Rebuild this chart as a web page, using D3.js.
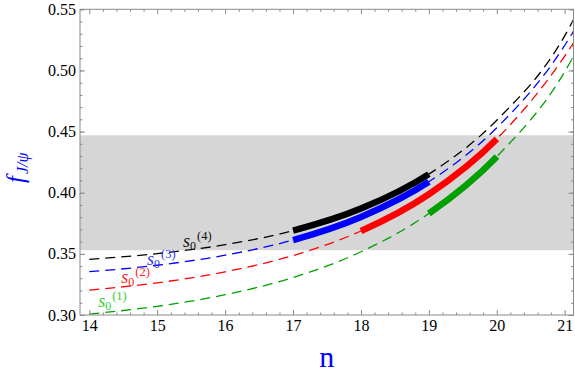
<!DOCTYPE html>
<html>
<head>
<meta charset="utf-8">
<script src="https://cdn.jsdelivr.net/npm/d3@7"></script>
<style>
  body { margin: 0; background: #fff; }
</style>
</head>
<body>
<svg id="chart" width="575" height="375"></svg>
<script>
// values
var nValues = [14, 15, 16, 17, 18, 19, 20, 21, 21.13];
var s0_1 = [0.3008, 0.3071, 0.3166, 0.3307, 0.3517, 0.3830, 0.4295, 0.4989, 0.5115];
var s0_2 = [0.3204, 0.3263, 0.3353, 0.3486, 0.3687, 0.3988, 0.4440, 0.5117, 0.5226];
var s0_3 = [0.3354, 0.3407, 0.3489, 0.3613, 0.3802, 0.4090, 0.4531, 0.5204, 0.5320];
var s0_4 = [0.3455, 0.3502, 0.3575, 0.3690, 0.3870, 0.4152, 0.4593, 0.5283, 0.5415];
var seriesNames = ["(1)", "(2)", "(3)", "(4)"];
// n range drawn as a thick band for each s0
var thickRanges = [[19, 20], [18, 20], [17, 19], [17, 19]];
// where each s0 label sits, in data units
var labelN = [14.13, 14.47, 14.85, 15.38];
var labelF = [0.3065, 0.3262, 0.3409, 0.3559];
var band = [0.353, 0.447];
var xTicks = [14, 15, 16, 17, 18, 19, 20, 21];
var yTicks = [0.30, 0.35, 0.40, 0.45, 0.50, 0.55];

var serif = "'Liberation Serif', 'Times New Roman', serif",
  lineColors = ["#00a000", "#ff0000", "#0000ff", "#000000"],
  labelColors = ["#33cc33", "#ff2020", "#3333ee", "#111111"],
  frameColor = "#8a8a8a",
  plot = {left: 80, right: 573.5, top: 9.3, bottom: 315};

var svg = d3.select("#chart").attr("font-family", serif),
  x = d3.scaleLinear().domain([13.863, 21.13]).range([plot.left, plot.right]),
  y = d3.scaleLinear().domain([0.30, 0.55]).range([plot.bottom, plot.top]),
  allSeries = [s0_1, s0_2, s0_3, s0_4],
  line = d3.line()
    .x(function(d) { return x(d[0]); })
    .y(function(d) { return y(d[1]); })
    .curve(d3.curveMonotoneX),
  defs = svg.append("defs");

defs.append("clipPath")
  .attr("id", "plotClip")
  .append("rect")
    .attr("x", plot.left)
    .attr("y", plot.top)
    .attr("width", plot.right - plot.left)
    .attr("height", plot.bottom - plot.top);

// path length at which the curve reaches screen x = px
var lengthAtX = function(node, px) {
  var lo = 0, hi = node.getTotalLength(), mid, k;
  for (k = 0; k < 40; k++) {
    mid = (lo + hi) / 2;
    if (node.getPointAtLength(mid).x < px) lo = mid; else hi = mid;
  }
  return (lo + hi) / 2;
};

// grey band
svg.append("rect")
  .attr("x", plot.left)
  .attr("y", y(band[1]))
  .attr("width", plot.right - plot.left)
  .attr("height", y(band[0]) - y(band[1]))
  .attr("fill", "#d6d6d6");

var curves = svg.append("g").attr("clip-path", "url(#plotClip)");

allSeries.forEach(function(vals, i) {
  var pts = nValues.map(function(n, k) { return [n, vals[k]]; });
  curves.append("path")
    .attr("d", line(pts))
    .attr("fill", "none")
    .attr("stroke", lineColors[i])
    .attr("stroke-width", 1.3)
    .attr("stroke-dasharray", "10,6");
});

allSeries.forEach(function(vals, i) {
  var pts = nValues.map(function(n, k) { return [n, vals[k]]; }),
    thick = curves.append("path")
      .attr("d", line(pts))
      .attr("fill", "none")
      .attr("stroke", lineColors[i])
      .attr("stroke-width", 6.5),
    node = thick.node(),
    l0 = lengthAtX(node, x(thickRanges[i][0])),
    l1 = lengthAtX(node, x(thickRanges[i][1]));
  thick.attr("stroke-dasharray", [0, l0, l1 - l0, node.getTotalLength()].join(","));
});

// s0 labels
seriesNames.forEach(function(name, i) {
  var t = svg.append("text")
    .attr("x", x(labelN[i]))
    .attr("y", y(labelF[i]))
    .attr("fill", labelColors[i]);
  t.append("tspan").attr("font-style", "italic").attr("font-size", 18).text("s");
  t.append("tspan").attr("font-size", 12).attr("dy", 3).text("0");
  t.append("tspan").attr("font-size", 12.5).attr("dy", -10).attr("dx", 1).text(name);
});

// frame and ticks
var xMinor = d3.range(14, 21.15, 0.2).filter(function(v) { return xTicks.indexOf(Math.round(v * 10) / 10) < 0; }),
  yMinor = d3.range(0.30, 0.5501, 0.01),
  tickStyle = function(g) {
    g.attr("font-family", serif);
    g.select(".domain").remove();
    g.selectAll(".tick line").attr("stroke", frameColor);
    g.selectAll(".tick text")
      .attr("fill", "#000")
      .attr("font-family", serif)
      .attr("font-size", 16);
  };

svg.append("g")
  .attr("transform", "translate(0," + plot.bottom + ")")
  .call(d3.axisBottom(x).tickValues(xTicks).tickSize(-5).tickPadding(5).tickFormat(d3.format("d")))
  .call(tickStyle);
svg.append("g")
  .attr("transform", "translate(0," + plot.bottom + ")")
  .call(d3.axisBottom(x).tickValues(xMinor).tickSize(-2.5).tickFormat(""))
  .call(tickStyle);
svg.append("g")
  .attr("transform", "translate(0," + plot.top + ")")
  .call(d3.axisTop(x).tickValues(xTicks).tickSize(-5).tickFormat(""))
  .call(tickStyle);
svg.append("g")
  .attr("transform", "translate(0," + plot.top + ")")
  .call(d3.axisTop(x).tickValues(xMinor).tickSize(-2.5).tickFormat(""))
  .call(tickStyle);

svg.append("g")
  .attr("transform", "translate(" + plot.left + ",0)")
  .call(d3.axisLeft(y).tickValues(yTicks).tickSize(-5).tickPadding(4).tickFormat(d3.format(".2f")))
  .call(tickStyle);
svg.append("g")
  .attr("transform", "translate(" + plot.left + ",0)")
  .call(d3.axisLeft(y).tickValues(yMinor).tickSize(-2.5).tickFormat(""))
  .call(tickStyle);
svg.append("g")
  .attr("transform", "translate(" + plot.right + ",0)")
  .call(d3.axisRight(y).tickValues(yTicks).tickSize(-5).tickFormat(""))
  .call(tickStyle);
svg.append("g")
  .attr("transform", "translate(" + plot.right + ",0)")
  .call(d3.axisRight(y).tickValues(yMinor).tickSize(-2.5).tickFormat(""))
  .call(tickStyle);

svg.append("rect")
  .attr("x", plot.left)
  .attr("y", plot.top)
  .attr("width", plot.right - plot.left)
  .attr("height", plot.bottom - plot.top)
  .attr("fill", "none")
  .attr("stroke", frameColor)
  .attr("stroke-width", 1);

// axis titles
svg.append("text")
  .attr("x", (plot.left + plot.right) / 2)
  .attr("y", 367)
  .attr("text-anchor", "middle")
  .attr("fill", "#0000ff")
  .attr("font-size", 30)
  .text("n");

var yTitle = svg.append("text")
  .attr("transform", "translate(24,183) rotate(-90)")
  .attr("fill", "#0000ff");
yTitle.append("tspan").attr("font-style", "italic").attr("font-size", 25).text("f");
yTitle.append("tspan").attr("font-style", "italic").attr("font-size", 16).attr("dy", 4).attr("dx", 2).text("J/ψ");
</script>
</body>
</html>
